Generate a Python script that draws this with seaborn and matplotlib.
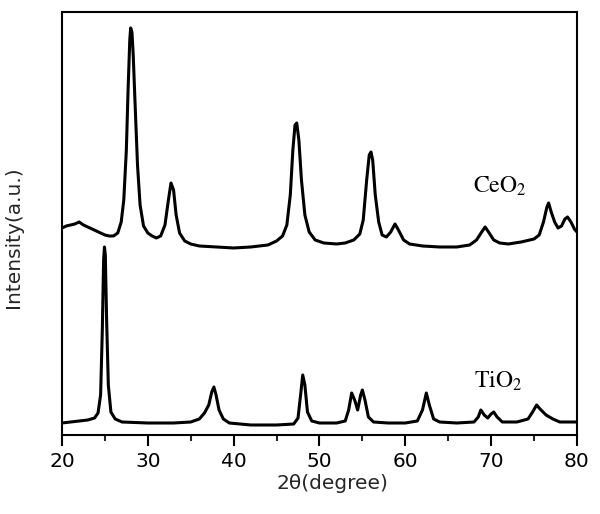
import matplotlib
matplotlib.use("Agg")
import matplotlib.pyplot as plt
import seaborn as sns
import numpy as np
import pandas as pd

# XRD patterns (2theta in degree, intensity in a.u.)
ceo2_theta = [20.0, 20.5, 21.0, 21.5, 22.0, 22.5, 23.0, 23.5, 24.0, 24.5, 25.0, 25.5,
              26.0, 26.5, 26.9, 27.2, 27.5, 27.7, 27.9, 28.0, 28.15, 28.3, 28.5, 28.8,
              29.1, 29.5, 30.0, 30.5, 31.0, 31.5, 32.0, 32.4, 32.7, 33.0, 33.3, 33.7,
              34.3, 35.0, 36.0, 38.0, 40.0, 42.0, 44.0, 45.0, 45.7, 46.2, 46.6, 46.9,
              47.15, 47.35, 47.6, 47.9, 48.3, 48.8, 49.5, 50.5, 52.0, 53.0, 54.0, 54.7,
              55.1, 55.5, 55.8, 56.0, 56.2, 56.5, 56.9, 57.3, 57.8, 58.3, 58.8, 59.2,
              59.8, 60.5, 62.0, 64.0, 66.0, 67.5, 68.3, 68.9, 69.3, 69.7, 70.3, 71.0,
              72.0, 73.5, 75.0, 75.6, 76.1, 76.5, 76.7, 77.0, 77.4, 77.8, 78.2, 78.6,
              78.9, 79.3, 79.7, 80.0]
ceo2_int = [207, 209, 210, 211, 213, 210, 208, 206, 204, 202, 200, 199,
            199, 202, 213, 235, 285, 345, 395, 407, 403, 380, 335, 270,
            230, 209, 202, 199, 197, 199, 210, 235, 252, 245, 220, 202,
            194, 191, 189, 188, 187, 188, 190, 194, 199, 210, 240, 285,
            310, 312, 295, 255, 220, 203, 195, 192, 191, 192, 195, 201,
            215, 255, 280, 283, 275, 240, 213, 200, 198, 203, 211, 205,
            195, 191, 189, 188, 188, 190, 195, 203, 208, 203, 195, 192,
            191, 193, 196, 200, 213, 228, 232, 223, 213, 207, 209, 216,
            218, 213, 206, 203]

tio2_theta = [20.0, 21.0, 22.0, 23.0, 23.8, 24.2, 24.5, 24.7, 24.85, 24.95, 25.05, 25.2,
              25.4, 25.7, 26.2, 27.0, 30.0, 33.0, 35.0, 36.0, 36.6, 37.1, 37.45, 37.7,
              37.95, 38.3, 38.8, 39.5, 42.0, 45.0, 47.0, 47.5, 47.8, 48.05, 48.3, 48.6,
              49.1, 50.0, 52.0, 53.0, 53.4, 53.75, 54.1, 54.45, 54.8, 55.0, 55.3, 55.7,
              56.3, 58.0, 60.0, 61.4, 62.0, 62.45, 62.8, 63.3, 64.0, 66.0, 68.0, 68.5,
              68.8, 69.2, 69.6, 70.0, 70.3, 70.7, 71.3, 73.0, 74.3, 74.9, 75.3, 75.7,
              76.4, 77.2, 78.0, 80.0]
tio2_int = [12, 13, 14, 15, 17, 22, 40, 105, 175, 188, 180, 115,
            50, 23, 16, 13, 12, 12, 13, 16, 22, 30, 43, 48,
            40, 25, 16, 12, 10, 10, 11, 17, 40, 60, 50, 23,
            14, 12, 12, 14, 25, 42, 35, 25, 40, 45, 35, 18,
            13, 12, 12, 14, 25, 42, 30, 16, 13, 12, 13, 18,
            25, 20, 17, 21, 23, 18, 13, 13, 16, 24, 30, 26,
            20, 16, 13, 13]

df = pd.concat([
    pd.DataFrame({"theta": ceo2_theta, "intensity": ceo2_int, "sample": "CeO2"}),
    pd.DataFrame({"theta": tio2_theta, "intensity": tio2_int, "sample": "TiO2"}),
])

sns.set_theme(style="ticks")
plt.rcParams["font.family"] = ["DejaVu Sans"]
plt.rcParams["mathtext.fontset"] = "stix"

fig = plt.figure(figsize=(6, 5.14), dpi=100)
ax = fig.add_axes([0.1033, 0.1537, 0.8583, 0.8230])

sns.lineplot(data=df, x="theta", y="intensity", units="sample", estimator=None,
             color="black", linewidth=2.2, sort=False, legend=False, ax=ax)

ax.set_xlim(20, 80)
ax.set_ylim(0, 423)
ax.set_xticks(np.arange(20, 81, 10))
ax.set_xticks(np.arange(25, 80, 10), minor=True)
ax.set_yticks([])
ax.tick_params(axis="x", which="major", direction="out", length=8, width=1.5,
               labelsize=14.5, pad=4, colors="black")
ax.tick_params(axis="x", which="minor", direction="out", length=4, width=1.5)
for s in ax.spines.values():
    s.set_visible(True)
    s.set_linewidth(1.5)
    s.set_color("black")

ax.set_xlabel("2θ(degree)", fontsize=14.5)
ax.set_ylabel("Intensity(a.u.)", fontsize=14.5)
ax.xaxis.set_label_coords(0.526, -0.092)
ax.yaxis.set_label_coords(-0.075, 0.467)

ax.text(67.9, 242, r"$\mathrm{CeO_2}$", fontsize=17, va="baseline", color="black")
ax.text(68.0, 47, r"$\mathrm{TiO_2}$", fontsize=17, va="baseline", color="black")

fig.savefig("out.png", dpi=100, facecolor="white")
